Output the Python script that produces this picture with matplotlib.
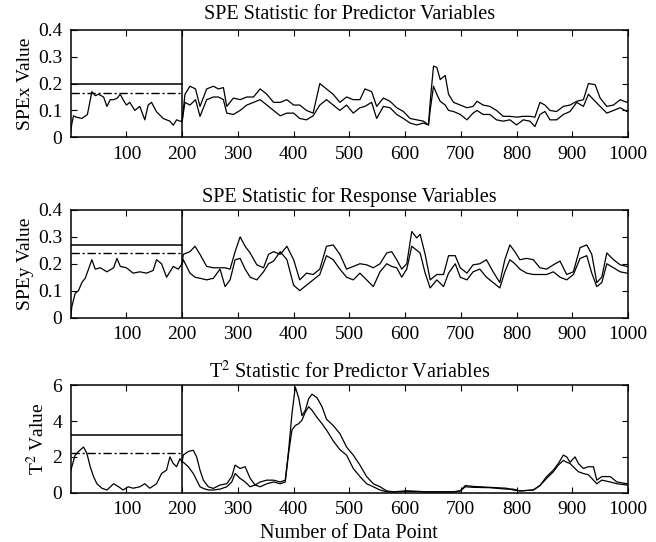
import matplotlib
matplotlib.use('Agg')
import matplotlib.pyplot as plt

plt.rcParams['font.family'] = ['Liberation Serif', 'DejaVu Serif']
plt.rcParams['mathtext.fontset'] = 'stix'

# ---- SPEx (predictor variables) ----
spex_x_train = [0, 2, 5, 10, 20, 30, 38, 44, 50, 59, 65, 71, 77, 83, 89, 94, 100, 106, 115, 124,
                133, 139, 145, 154, 166, 178, 184, 190, 196, 200]
spex_train = [0.02, 0.05, 0.08, 0.075, 0.07, 0.085, 0.17, 0.155, 0.16, 0.15, 0.115, 0.14, 0.14, 0.145,
              0.16, 0.14, 0.12, 0.13, 0.10, 0.115, 0.065, 0.12, 0.13, 0.095, 0.07, 0.06, 0.045,
              0.065, 0.06, 0.06]
spex_x_test = [200, 205, 214, 224, 232, 244, 256, 265, 274, 280, 292, 304, 316, 328, 340, 352, 364,
               376, 388, 400, 411, 423, 435, 447, 459, 471, 483, 495, 507, 519, 528, 540, 549, 561,
               573, 585, 597, 609, 621, 633, 642, 645, 651, 657, 663, 672, 678, 687, 699, 711, 722,
               729, 740, 752, 764, 776, 788, 800, 812, 824, 833, 842, 851, 860, 872, 884, 896, 908,
               920, 929, 941, 950, 962, 974, 986, 998, 1000]
spex_a = [0.06, 0.16, 0.19, 0.18, 0.115, 0.18, 0.19, 0.18, 0.185, 0.115, 0.146, 0.14, 0.15, 0.15,
          0.18, 0.16, 0.13, 0.13, 0.14, 0.12, 0.12, 0.10, 0.09, 0.20, 0.18, 0.16, 0.13, 0.15, 0.14,
          0.14, 0.18, 0.17, 0.115, 0.146, 0.134, 0.11, 0.096, 0.07, 0.065, 0.06, 0.046, 0.13, 0.265,
          0.26, 0.215, 0.23, 0.16, 0.13, 0.12, 0.11, 0.115, 0.134, 0.12, 0.115, 0.10, 0.078, 0.078,
          0.075, 0.078, 0.078, 0.075, 0.13, 0.12, 0.10, 0.096, 0.115, 0.12, 0.134, 0.14, 0.20,
          0.196, 0.146, 0.115, 0.12, 0.14, 0.13, 0.135]
spex_b = [0.06, 0.13, 0.12, 0.14, 0.078, 0.14, 0.15, 0.15, 0.14, 0.09, 0.085, 0.10, 0.12, 0.13,
          0.14, 0.12, 0.10, 0.08, 0.09, 0.09, 0.07, 0.065, 0.08, 0.12, 0.14, 0.12, 0.10, 0.12, 0.09,
          0.11, 0.115, 0.13, 0.07, 0.115, 0.11, 0.085, 0.07, 0.053, 0.046, 0.053, 0.046, 0.10, 0.19,
          0.16, 0.134, 0.12, 0.10, 0.096, 0.085, 0.065, 0.09, 0.10, 0.085, 0.085, 0.065, 0.06, 0.065,
          0.046, 0.065, 0.06, 0.04, 0.085, 0.096, 0.065, 0.065, 0.085, 0.096, 0.13, 0.115, 0.16,
          0.134, 0.115, 0.09, 0.10, 0.11, 0.096, 0.10]
spex_lim99, spex_lim95 = 0.20, 0.165

# ---- SPEy (response variables) ----
spey_x_train = [0, 2, 8, 14, 20, 26, 32, 38, 44, 53, 65, 77, 83, 89, 100, 112, 124, 136, 148, 154,
                163, 172, 184, 193, 200]
spey_train = [0.0, 0.04, 0.09, 0.10, 0.13, 0.146, 0.18, 0.215, 0.18, 0.185, 0.17, 0.185, 0.22,
              0.19, 0.185, 0.165, 0.17, 0.165, 0.175, 0.215, 0.20, 0.15, 0.19, 0.18, 0.20]
spey_x_test = [200, 202, 214, 223, 232, 244, 256, 268, 277, 286, 295, 304, 313, 322, 334, 346, 355,
               364, 376, 388, 400, 411, 423, 435, 447, 459, 471, 483, 495, 507, 519, 531, 543, 555,
               567, 576, 585, 594, 603, 612, 621, 627, 636, 645, 657, 669, 678, 690, 699, 711, 722,
               734, 746, 758, 770, 779, 788, 797, 806, 818, 830, 842, 854, 866, 878, 890, 902, 914,
               926, 935, 944, 953, 962, 974, 986, 998, 1000]
spey_a = [0.20, 0.235, 0.245, 0.265, 0.235, 0.19, 0.185, 0.185, 0.185, 0.18, 0.245, 0.30, 0.265,
          0.24, 0.196, 0.185, 0.235, 0.245, 0.235, 0.265, 0.215, 0.14, 0.165, 0.16, 0.18, 0.265,
          0.27, 0.235, 0.18, 0.19, 0.20, 0.196, 0.185, 0.20, 0.24, 0.245, 0.215, 0.18, 0.20, 0.32,
          0.296, 0.31, 0.235, 0.14, 0.16, 0.16, 0.23, 0.23, 0.185, 0.165, 0.196, 0.20, 0.215, 0.17,
          0.13, 0.215, 0.27, 0.245, 0.215, 0.22, 0.215, 0.185, 0.18, 0.196, 0.21, 0.16, 0.17, 0.26,
          0.27, 0.235, 0.13, 0.15, 0.24, 0.215, 0.196, 0.19, 0.19]
spey_b = [0.20, 0.215, 0.165, 0.15, 0.146, 0.14, 0.146, 0.18, 0.115, 0.14, 0.215, 0.22, 0.18, 0.15,
          0.14, 0.17, 0.20, 0.21, 0.245, 0.215, 0.12, 0.10, 0.12, 0.14, 0.16, 0.23, 0.215, 0.18,
          0.15, 0.14, 0.165, 0.14, 0.115, 0.17, 0.20, 0.19, 0.185, 0.15, 0.18, 0.265, 0.25, 0.24,
          0.165, 0.11, 0.14, 0.115, 0.165, 0.20, 0.15, 0.14, 0.17, 0.18, 0.15, 0.13, 0.11, 0.17,
          0.215, 0.20, 0.18, 0.165, 0.16, 0.16, 0.16, 0.17, 0.15, 0.14, 0.16, 0.22, 0.23, 0.165,
          0.115, 0.13, 0.20, 0.185, 0.17, 0.165, 0.165]
spey_lim99, spey_lim95 = 0.27, 0.24

# ---- T2 (predictor variables) ----
t2_x_train = [0, 2, 8, 14, 23, 29, 35, 41, 47, 56, 65, 77, 86, 94, 103, 112, 124, 133, 142, 154,
              163, 172, 178, 184, 190, 196, 200]
t2_train = [1.2, 1.45, 2.1, 2.3, 2.55, 2.2, 1.45, 0.9, 0.5, 0.25, 0.15, 0.5, 0.33, 0.15, 0.33, 0.25,
            0.33, 0.5, 0.25, 0.5, 1.07, 1.26, 2.0, 1.63, 1.45, 1.9, 1.7]
t2_x_test = [200, 202, 211, 220, 226, 232, 238, 247, 256, 268, 280, 289, 295, 304, 313, 322, 331,
             340, 352, 364, 376, 385, 391, 397, 403, 409, 415, 421, 427, 433, 442, 451, 459, 471,
             483, 495, 507, 519, 531, 543, 555, 567, 579, 603, 640, 687, 699, 708, 722, 752, 782,
             794, 806, 830, 842, 854, 866, 875, 884, 890, 896, 905, 911, 920, 929, 938, 944, 953,
             968, 980, 998, 1000]
t2_a = [1.7, 2.1, 2.3, 2.37, 2.0, 1.26, 0.7, 0.33, 0.24, 0.43, 0.5, 0.9, 1.54, 1.35, 1.45, 0.8,
        0.43, 0.6, 0.7, 0.7, 0.6, 0.7, 2.37, 4.4, 5.9, 5.3, 4.3, 4.6, 5.25, 5.5, 5.3, 4.8, 4.1,
        3.75, 3.3, 2.55, 2.1, 1.54, 0.9, 0.5, 0.33, 0.1, 0.05, 0.1, 0.05, 0.05, 0.1, 0.4, 0.35,
        0.3, 0.25, 0.15, 0.1, 0.15, 0.4, 0.9, 1.26, 1.63, 2.1, 2.0, 1.7, 2.0, 1.63, 1.35, 1.45,
        1.45, 0.7, 0.9, 0.9, 0.6, 0.5, 0.45]
t2_b = [1.7, 1.7, 1.45, 1.07, 0.7, 0.33, 0.24, 0.15, 0.15, 0.2, 0.33, 0.6, 1.07, 0.8, 0.6, 0.33,
        0.43, 0.33, 0.5, 0.6, 0.5, 0.6, 2.2, 3.5, 3.75, 3.85, 4.05, 4.5, 4.8, 4.6, 4.2, 3.85, 3.5,
        2.9, 2.4, 2.1, 1.35, 0.9, 0.5, 0.33, 0.15, 0.05, 0.05, 0.08, 0.05, 0.05, 0.1, 0.33, 0.3,
        0.28, 0.2, 0.2, 0.1, 0.15, 0.4, 0.8, 1.17, 1.54, 1.8, 1.7, 1.63, 1.35, 1.17, 1.07, 1.0,
        0.7, 0.5, 0.7, 0.6, 0.5, 0.43, 0.4]
t2_lim99, t2_lim95 = 3.2, 2.2

fig = plt.figure(figsize=(6.56, 5.42), dpi=100)
W, H = 656.0, 542.0

panels = [
    (spex_x_train, spex_train, spex_x_test, spex_a, spex_b, spex_lim99, spex_lim95,
     'SPE Statistic for Predictor Variables', 'SPEx Value', 0.4, [0, 0.1, 0.2, 0.3, 0.4],
     ['0', '0.1', '0.2', '0.3', '0.4'], 137.3, 7.5),
    (spey_x_train, spey_train, spey_x_test, spey_a, spey_b, spey_lim99, spey_lim95,
     'SPE Statistic for Response Variables', 'SPEy Value', 0.4, [0, 0.1, 0.2, 0.3, 0.4],
     ['0', '0.1', '0.2', '0.3', '0.4'], 317.5, 6),
    (t2_x_train, t2_train, t2_x_test, t2_a, t2_b, t2_lim99, t2_lim95,
     r'T$^2$ Statistic for Predictor Variables', r'T$^2$ Value', 6, [0, 2, 4, 6],
     ['0', '2', '4', '6'], 492.7, 5),
]

for i, (xt, yt, xs, ya, yb, l99, l95, title, ylab, ymax, yt_pos, yt_lab, bot, tpad) in enumerate(panels):
    ax = fig.add_axes([70.7 / W, (H - bot) / H, 557.3 / W, 107.5 / H])
    ax.plot(xt, yt, color='black', lw=0.9)
    ax.plot(xs, ya, color='black', lw=0.9)
    ax.plot(xs, yb, color='black', lw=0.9)
    ax.plot([0, 200], [l99, l99], color='black', lw=1.1)
    ax.plot([0, 200], [l95, l95], color='black', lw=1.0, ls='-.', dashes=(6, 2, 1.5, 2))
    ax.axvline(200, color='black', lw=1.1)
    ax.set_xlim(0, 1000)
    ax.set_ylim(0, ymax)
    ax.set_xticks(range(100, 1001, 100))
    ax.set_yticks(yt_pos)
    ax.set_yticklabels(yt_lab)
    ax.tick_params(direction='in', top=True, right=True, length=4, width=0.8,
                   labelsize=14, pad=6)
    for s in ax.spines.values():
        s.set_linewidth(1.1)
    ax.set_title(title, fontsize=14.5, pad=tpad)
    ax.set_ylabel(ylab, fontsize=14, labelpad=3)
    if i == 2:
        ax.set_xlabel('Number of Data Point', fontsize=14.5, labelpad=4)

fig.savefig('out.png', dpi=100)
